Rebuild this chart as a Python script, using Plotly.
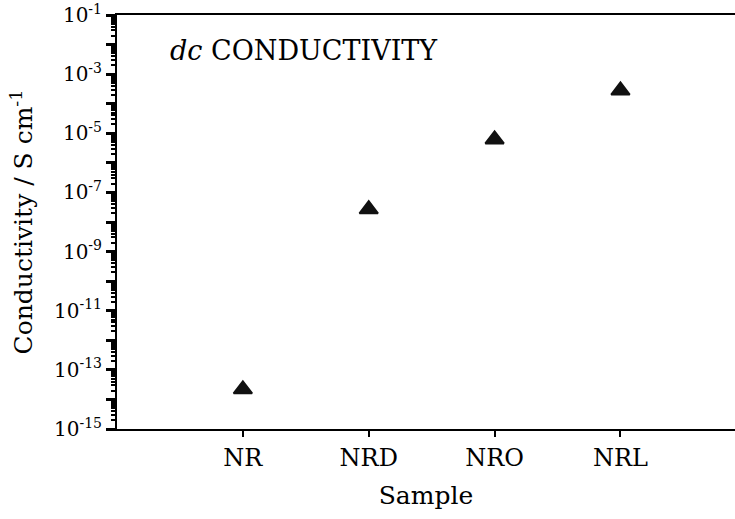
import plotly.graph_objects as go

samples = ["NR", "NRD", "NRO", "NRL"]
conductivity = [2.2e-14, 2.7e-8, 6.2e-6, 2.8e-4]

decades = list(range(-1, -16, -1))
tick_vals = [10.0 ** d for d in decades]
tick_text = [f"10<sup>{d}</sup>" if d % 2 != 0 else "" for d in decades]
minor_vals = [k * 10.0 ** d for d in range(-15, -1) for k in range(2, 10)]

FONT = "DejaVu Serif"
YRANGE = [-15.0001, -0.9999]

fig = go.Figure()
fig.add_trace(go.Scatter(x=[], y=[], yaxis="y2", showlegend=False, hoverinfo="skip"))
fig.add_trace(
    go.Scatter(
        x=samples,
        y=conductivity,
        mode="markers",
        marker=dict(symbol="triangle-up", size=16, color="#111111",
                    line=dict(color="#111111", width=2)),
        showlegend=False,
    )
)

fig.update_layout(
    width=735, height=519,
    margin=dict(l=117, r=0, t=15, b=90),
    paper_bgcolor="white", plot_bgcolor="white",
    font=dict(family=FONT, color="black"),
    annotations=[dict(
        text="<i>dc</i> CONDUCTIVITY", xref="paper", yref="paper",
        x=(168 - 117) / 618, y=(429 - 50) / 414, xanchor="left", yanchor="middle",
        showarrow=False, font=dict(family=FONT, size=27, color="black"),
    )],
    yaxis2=dict(
        type="log", range=YRANGE, overlaying="y", side="left",
        tickmode="array", tickvals=minor_vals, showticklabels=False,
        ticks="outside", ticklen=5, tickwidth=1.5, tickcolor="black",
        showgrid=False, zeroline=False, showline=False,
    ),
    xaxis=dict(
        type="category", categoryorder="array", categoryarray=samples, range=[-1, 3.91],
        showline=True, linecolor="black", linewidth=2, mirror=True,
        ticks="outside", ticklen=6, tickwidth=1.5, tickcolor="black",
        showgrid=False, zeroline=False,
        tickfont=dict(family=FONT, size=24, color="black"),
        title=dict(text="Sample", font=dict(family=FONT, size=25, color="black"), standoff=16),
    ),
    yaxis=dict(
        type="log", range=YRANGE,
        tickmode="array", tickvals=tick_vals, ticktext=tick_text,
        ticklabeloverflow="allow",
        showline=True, linecolor="black", linewidth=2,
        ticks="outside", ticklen=9, tickwidth=2.5, tickcolor="black",
        showgrid=False, zeroline=False,
        tickfont=dict(family=FONT, size=20, color="black"),
        title=dict(text="Conductivity / S cm<sup>-1</sup>", font=dict(family=FONT, size=25, color="black"), standoff=14),
    ),
)

fig.write_html("out.html")
